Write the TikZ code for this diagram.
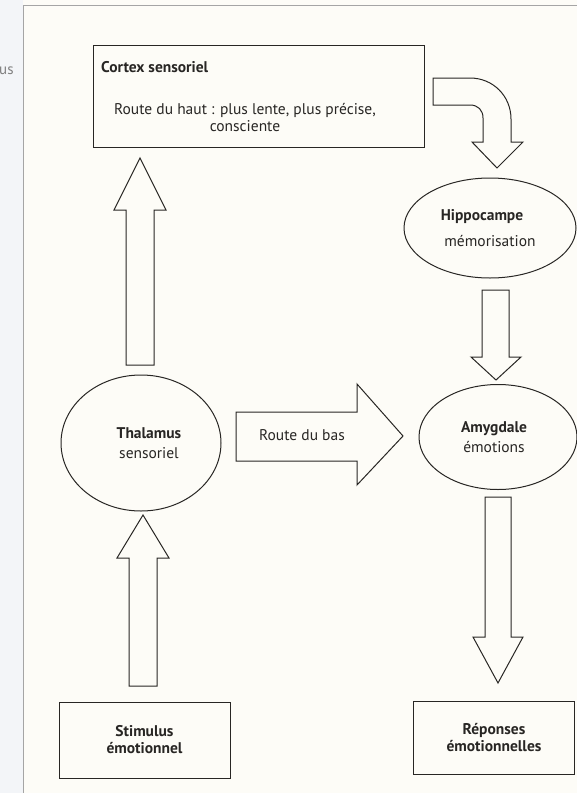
\documentclass[tikz,border=0pt]{standalone}
\usepackage{fontspec}
\setmainfont{PT Sans}
\usepackage{tikz}
\usetikzlibrary{shapes.geometric}
\definecolor{ink}{RGB}{40,38,36}
\definecolor{paper}{RGB}{253,252,247}
\definecolor{strip}{RGB}{243,245,248}
\definecolor{rule}{RGB}{165,165,165}
\tikzset{every picture/.style={x=1pt,y=-1pt}}
\tikzset{box/.style={rectangle,draw=ink,line width=1pt,inner sep=0pt}}
\tikzset{oval/.style={ellipse,draw=ink,line width=1pt,inner sep=0pt,align=center,text=ink,font=\fontsize{15.5}{19.5}\selectfont}}
\tikzset{blk/.style={draw=ink,line width=1pt,line join=miter,fill=paper}}
\tikzset{lbl/.style={font=\fontsize{15.5}{17}\selectfont,text=ink,align=center}}

\begin{document}
\begin{tikzpicture}
\useasboundingbox (0,0) rectangle (577,793);
\fill [paper] (0,0) rectangle (577,793);
\fill [strip] (0,0) rectangle (23,793);
\draw [rule,line width=.8pt] (23,793) -- (23,5) -- (577,5);
\node [text=black!50,font=\fontsize{15}{17}\selectfont,anchor=west,inner sep=0pt] (us) at (-1,71) {us};

% boxes
\node [box,minimum width=331,minimum height=102] (cortex) at (258.5,96) {};
\node [lbl,anchor=west,inner sep=0pt,font=\fontsize{15.5}{17}\selectfont\bfseries] (cortexT) at (101,67) {Cortex sensoriel};
\node [lbl] (cortexR) at (245,118) {Route du haut : plus lente, plus précise,\\consciente};

\node [box,minimum width=171,minimum height=76,lbl] (stim) at (144.5,740) {\textbf{Stimulus}\\\textbf{émotionnel}};
\node [box,minimum width=161,minimum height=73,lbl] (rep) at (494,737.5) {\textbf{Réponses}\\\textbf{émotionnelles}};

% ovals
\node [oval,minimum width=160,minimum height=136] (thal) at (141,443) {\hspace*{16pt}\textbf{Thalamus}\\\hspace*{16pt}sensoriel};
\node [oval,minimum width=158,minimum height=105] (amyg) at (498,437) {\textbf{Amygdale}\hspace*{8pt}\\émotions\hspace*{8pt}};
\node [oval,minimum width=172,minimum height=100] (hippo) at (490,228) {\textbf{Hippocampe}\hspace*{16pt}\\[7pt]mémorisation};

% block arrows
\draw [blk] (126,365) -- (126,210) -- (114,210) -- (140,158) -- (166,210) -- (154,210) -- (154,365) -- cycle;
\draw [blk] (129,686) -- (129,558) -- (117,558) -- (143,515) -- (169,558) -- (157,558) -- (157,686) -- cycle;
\draw [blk] (236,412) -- (357,412) -- (357,384) -- (403,436) -- (357,485) -- (357,461) -- (236,461) -- cycle;
\draw [blk] (482,290) -- (509,290) -- (509,357) -- (521,357) -- (496,380) -- (471,357) -- (482,357) -- cycle;
\draw [blk] (485,497) -- (511,497) -- (511,637) -- (523,637) -- (498,683) -- (473,637) -- (485,637) -- cycle;
\draw [blk] (433,78) -- (470,78) .. controls (493,78) and (511,96) .. (511,119) -- (511,142)
  -- (523,142) -- (497,168) -- (472,142) -- (483,142) -- (483,118)
  .. controls (483,110) and (478,105) .. (470,105) -- (433,105) -- cycle;
\node [lbl] (bas) at (302,435) {Route du bas};
\end{tikzpicture}
\end{document}
